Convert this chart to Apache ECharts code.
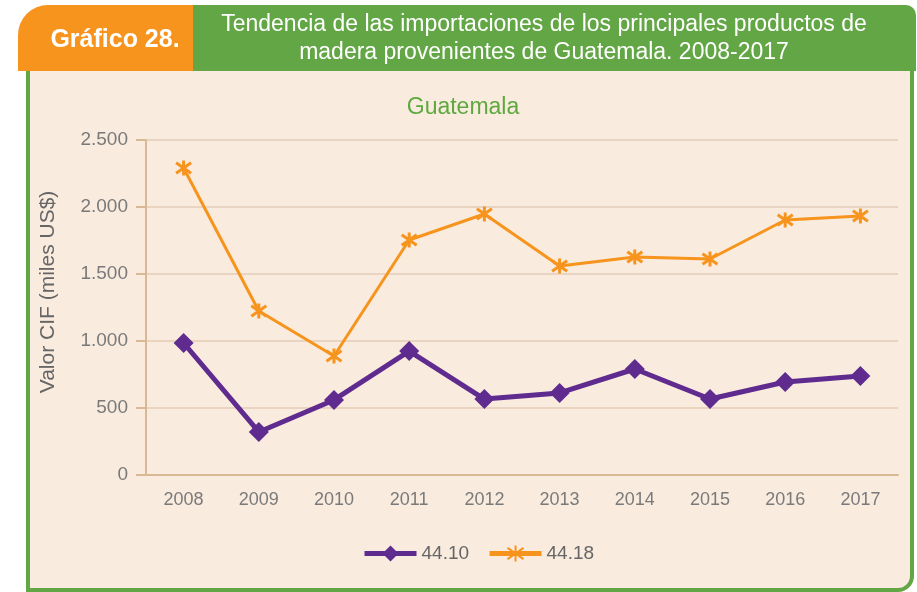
<!DOCTYPE html>
<html>
<head>
<meta charset="utf-8">
<script src="https://cdn.jsdelivr.net/npm/echarts@6/dist/echarts.min.js"></script>
<style>
  html, body { margin: 0; padding: 0; background: #fff; }
  #main { width: 917px; height: 592px; }
</style>
</head>
<body>
<div id="main"></div>
<script>
// data
var years = ["2008", "2009", "2010", "2011", "2012", "2013", "2014", "2015", "2016", "2017"];
var s4410 = [985, 321, 560, 925, 567, 612, 791, 567, 694, 739];
var s4418 = [2291, 1224, 888, 1754, 1948, 1560, 1627, 1612, 1903, 1933];
var yTicks = [0, 500, 1000, 1500, 2000, 2500];

var purple = "#5f2b8f";
var orange = "#f7941d";
var green = "#63a645";
var cream = "#f9ebde";
var font = "'Liberation Sans', Arial, sans-serif";

// asterisk marker (vertical bar + X)
var starPath = "path://M0,-10L0,10M-7,-7L7,7M7,-7L-7,7";

function fmt(v) {
  // thousands with dot
  return String(v).replace(/\B(?=(\d{3})+(?!\d))/g, ".");
}

var myChart = echarts.init(document.getElementById("main"));

var option = {
  backgroundColor: "#fff",
  animation: false,
  graphic: [
    {
      type: "rect", z: -10,
      shape: { x: 28, y: 60, width: 884, height: 530, r: [0, 0, 14, 0] },
      style: { fill: cream, stroke: green, lineWidth: 4 }
    },
    {
      type: "rect", z: -9,
      shape: { x: 190, y: 5, width: 726, height: 66, r: [0, 10, 0, 0] },
      style: { fill: green }
    },
    {
      type: "rect", z: -9,
      shape: { x: 18, y: 5, width: 175, height: 66, r: [30, 0, 0, 0] },
      style: { fill: orange }
    },
    {
      type: "text", x: 115, y: 40,
      style: { text: "Gráfico 28.", fill: "#fff", align: "center", verticalAlign: "middle",
        font: "bold 25px " + font }
    },
    {
      type: "text", x: 544, y: 11,
      style: {
        text: "Tendencia de las importaciones de los principales productos de\nmadera provenientes de Guatemala. 2008-2017",
        fill: "#fff", align: "center", lineHeight: 28,
        font: "23px 'Liberation Sans Narrow', " + font
      }
    },
    {
      type: "text", x: 48, y: 292, rotation: Math.PI / 2,
      style: { text: "Valor CIF (miles US$)", fill: "#666", align: "center", verticalAlign: "middle",
        font: "21px " + font }
    }
  ],
  title: {
    text: "Guatemala",
    left: 458, top: 91,
    textAlign: "center",
    textStyle: { color: "#5ea93f", fontSize: 23, fontWeight: "normal", fontFamily: font }
  },
  legend: {
    bottom: 24, left: 357,
    itemWidth: 52, itemHeight: 20, itemGap: 18,
    lineStyle: { width: 5 },
    textStyle: { color: "#666", fontSize: 19, fontFamily: "Liberation Sans Narrow, Liberation Sans, Arial, sans-serif" },
    data: ["44.10", "44.18"]
  },
  grid: { left: 146, right: 19, top: 140, bottom: 117 },
  xAxis: {
    type: "category",
    data: years,
    boundaryGap: true,
    axisLine: { lineStyle: { color: "#d9b896", width: 2 } },
    axisTick: { show: false },
    axisLabel: { color: "#7a7a7a", fontSize: 18, margin: 16, fontFamily: font }
  },
  yAxis: {
    type: "value",
    min: yTicks[0], max: yTicks[yTicks.length - 1], interval: 500,
    axisLine: { show: true, lineStyle: { color: "#d9b896", width: 2 } },
    axisTick: { show: true, length: 10, lineStyle: { color: "#d9b896", width: 2 } },
    axisLabel: { color: "#7a7a7a", fontSize: 19, margin: 18, formatter: fmt, fontFamily: font },
    splitLine: { lineStyle: { color: "#e8d4c0", width: 2 } }
  },
  series: [
    {
      name: "44.10", type: "line", data: s4410,
      symbol: "diamond", symbolSize: 20,
      lineStyle: { color: purple, width: 5 },
      itemStyle: { color: purple }
    },
    {
      name: "44.18", type: "line", data: s4418,
      symbol: starPath, symbolSize: 15,
      lineStyle: { color: orange, width: 3 },
      itemStyle: { color: "rgba(0,0,0,0)", borderColor: orange, borderWidth: 3 }
    }
  ]
};

myChart.setOption(option);
</script>
</body>
</html>
